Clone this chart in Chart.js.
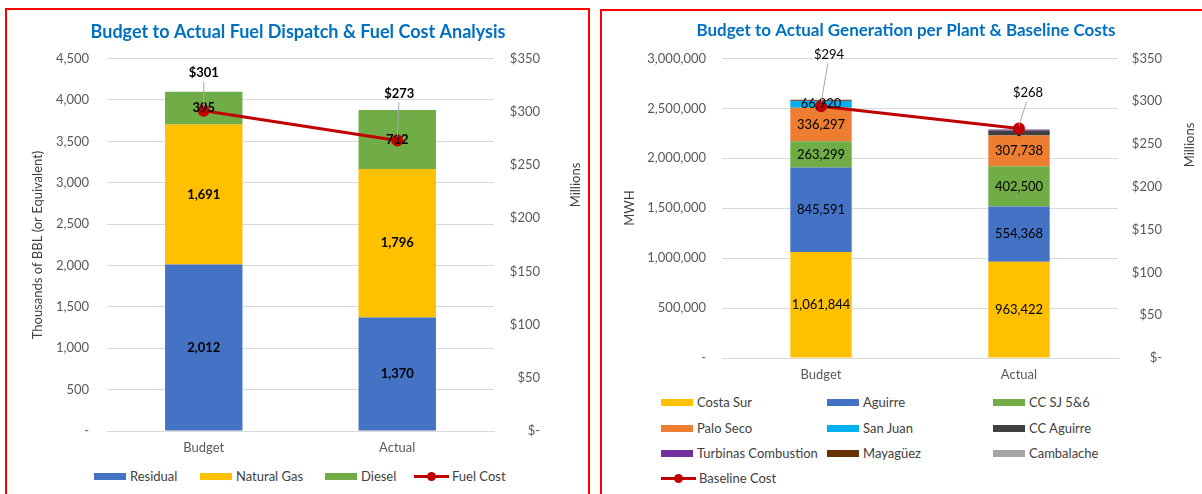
<!DOCTYPE html>
<html><head><meta charset="utf-8">
<script src="https://cdn.jsdelivr.net/npm/chart.js@4.4.0/dist/chart.umd.min.js"></script>
<style>
body{margin:0;width:1202px;height:494px;overflow:hidden;background:#fff;position:relative;font-family:Lato,'Open Sans',sans-serif;}
.box{position:absolute;border:2px solid #ff0000;box-sizing:border-box;}
.cw{position:absolute;}
.leg{position:absolute;font-size:13px;color:#404040;display:flex;align-items:center;white-space:nowrap;height:16px;line-height:16px;}
.sw{display:inline-block;width:32px;height:7px;margin-right:4px;}
.ln{position:relative;display:inline-block;width:35px;height:3px;margin-right:3px;}
.ln i{position:absolute;left:13px;top:-3px;width:9px;height:9px;border-radius:50%;}
</style></head><body>
<div class="box" style="left:5px;top:8px;width:585px;height:600px"></div>
<div class="box" style="left:600px;top:9px;width:700px;height:600px"></div>
<div class="cw" style="left:6px;top:10px;width:584px;height:451px"><canvas id="c1"></canvas></div>
<div class="cw" style="left:602px;top:11px;width:600px;height:377px"><canvas id="c2"></canvas></div>
<div id="leg1"></div><div id="leg2"></div>
<script>
// ---------- Data ----------
const fuelCategories = ['Budget', 'Actual'];
const residual   = [2012, 1370];
const naturalGas = [1691, 1796];
const diesel     = [395, 712];
const fuelCost   = [301, 273];

const genCategories = ['Budget', 'Actual'];
const costaSur   = [1061844, 963422];
const aguirre    = [845591, 554368];
const ccSJ56     = [263299, 402500];
const paloSeco   = [336297, 307738];
const sanJuan    = [66920, 0];
const ccAguirre  = [0, 45000];
const turbinas   = [3000, 7000];
const mayaguez   = [10000, 0];
const cambalache = [0, 13000];
const baselineCost = [294, 268];

// ---------- Helpers ----------
Chart.defaults.font.family = "Lato, 'Open Sans', sans-serif";
Chart.defaults.color = '#595959';
function fmtNum(v){ return v === 0 ? '-' : Number(v).toLocaleString('en-US'); }
function fmtMoney(v){ return v === 0 ? '$-' : '$' + v; }

const labelPlugin = {
  id: 'segLabels',
  afterDatasetsDraw(chart, args, opts) {
    const ctx = chart.ctx;
    ctx.save();
    ctx.textAlign = 'center';
    ctx.textBaseline = 'middle';
    chart.data.datasets.forEach((ds, i) => {
      const meta = chart.getDatasetMeta(i);
      const type = ds.type || 'bar';
      if (type === 'bar') {
        if (!opts.barLabelSets.includes(i)) return;
        ctx.font = opts.barFont; ctx.fillStyle = '#000';
        meta.data.forEach((el, j) => {
          ctx.fillText(fmtNum(ds.data[j]), el.x, (el.y + el.base) / 2);
        });
      } else {
        meta.data.forEach((pt, j) => {
          const off = opts.lineOffsets[j];
          const lx = pt.x + off[0], ly = pt.y + off[1];
          ctx.strokeStyle = '#A6A6A6'; ctx.lineWidth = 1;
          ctx.beginPath(); ctx.moveTo(lx - off[0] * 0.15, ly + 9); ctx.lineTo(pt.x, pt.y - 3); ctx.stroke();
          ctx.font = opts.lineFont; ctx.fillStyle = '#000';
          ctx.fillText(fmtMoney(ds.data[j]), lx, ly);
        });
      }
    });
    ctx.font = opts.titleFont; ctx.fillStyle = '#404040';
    opts.titles.forEach(t => {
      ctx.save(); ctx.translate(t.x, t.y); ctx.rotate(-Math.PI / 2);
      ctx.fillText(t.text, 0, 0); ctx.restore();
    });
    // chart heading (centred on the whole canvas)
    const h = opts.heading;
    ctx.font = h.font; ctx.fillStyle = '#0070C0';
    ctx.fillText(h.text, h.x, h.y);
    ctx.restore();
  }
};

function commonScales(cfg) {
  return {
    x: {
      stacked: true,
      grid: { display: false, drawTicks: false },
      border: { display: true, color: '#D9D9D9' },
      ticks: { padding: 9, font: { size: 13 }, color: '#595959' },
      afterFit(s) { s.height = 30; }
    },
    y: {
      stacked: true, min: 0, max: cfg.yMax,
      grid: { color: '#D9D9D9', drawTicks: false },
      border: { display: false },
      ticks: { stepSize: cfg.yStep, padding: cfg.yPad, callback: v => fmtNum(v), font: { size: 13 }, color: '#595959' },
      afterFit(s) { s.width = cfg.yWidth; }
    },
    y1: {
      position: 'right', min: 0, max: 350,
      grid: { display: false, drawTicks: false },
      border: { display: false },
      ticks: { stepSize: 50, padding: 19, crossAlign: 'far', callback: v => fmtMoney(v), font: { size: 13 }, color: '#595959' },
      afterFit(s) { s.width = cfg.y1Width; }
    }
  };
}

const title1 = 'Budget to Actual Fuel Dispatch & Fuel Cost Analysis';
const title2 = 'Budget to Actual Generation per Plant & Baseline Costs';

// ---------- Chart 1 ----------
const c1 = new Chart(document.getElementById('c1'), {
  type: 'bar',
  data: {
    labels: fuelCategories,
    datasets: [
      { label: 'Residual', data: residual, backgroundColor: '#4472C4', order: 1, yAxisID: 'y' },
      { label: 'Natural Gas', data: naturalGas, backgroundColor: '#FFC000', order: 1, yAxisID: 'y' },
      { label: 'Diesel', data: diesel, backgroundColor: '#70AD47', order: 1, yAxisID: 'y' },
      { type: 'line', label: 'Fuel Cost', data: fuelCost, yAxisID: 'y1', order: 0,
        borderColor: '#C00000', backgroundColor: '#C00000', borderWidth: 3,
        pointRadius: 4.5, pointBackgroundColor: '#C00000', pointBorderColor: '#C00000' }
    ]
  },
  options: {
    responsive: true, maintainAspectRatio: false, animation: false,
    datasets: { bar: { barPercentage: 0.4, categoryPercentage: 1 } },
    layout: { padding: { left: 0, right: 50, top: 0, bottom: 0 } },
    plugins: {
      legend: { display: false }, tooltip: { enabled: false },
      title: { display: true, text: title1,
        color: 'rgba(0,0,0,0)', font: { size: 18, weight: 'bold' }, padding: { top: 11, bottom: 16 } },
      segLabels: {
        barLabelSets: [0, 1, 2], barFont: 'bold 13px Lato', lineFont: 'bold 13px Lato',
        lineOffsets: [[0, -38], [2, -47]], titleFont: '13px Lato',
        titles: [{ text: 'Thousands of BBL (or Equivalent)', x: 32, y: 235 }, { text: 'Millions', x: 570, y: 175 }],
        heading: { text: title1, font: 'bold 18px Lato', x: 292, y: 22 }
      }
    },
    scales: commonScales({ yMax: 4500, yStep: 500, yPad: 18, yWidth: 101, y1Width: 46 })
  },
  plugins: [labelPlugin]
});

// ---------- Chart 2 ----------
const c2 = new Chart(document.getElementById('c2'), {
  type: 'bar',
  data: {
    labels: genCategories,
    datasets: [
      { label: 'Costa Sur', data: costaSur, backgroundColor: '#FFC000', order: 1 },
      { label: 'Aguirre', data: aguirre, backgroundColor: '#4472C4', order: 1 },
      { label: 'CC SJ 5&6', data: ccSJ56, backgroundColor: '#70AD47', order: 1 },
      { label: 'Palo Seco', data: paloSeco, backgroundColor: '#ED7D31', order: 1 },
      { label: 'San Juan', data: sanJuan, backgroundColor: '#00B0F0', order: 1 },
      { label: 'CC Aguirre', data: ccAguirre, backgroundColor: '#404040', order: 1 },
      { label: 'Turbinas Combustion', data: turbinas, backgroundColor: '#7030A0', order: 1 },
      { label: 'Mayagüez', data: mayaguez, backgroundColor: '#663300', order: 1 },
      { label: 'Cambalache', data: cambalache, backgroundColor: '#A5A5A5', order: 1 },
      { type: 'line', label: 'Baseline Cost', data: baselineCost, yAxisID: 'y1', order: 0,
        borderColor: '#C00000', backgroundColor: '#C00000', borderWidth: 3,
        pointRadius: 4.5, pointBackgroundColor: '#C00000', pointBorderColor: '#C00000' }
    ]
  },
  options: {
    responsive: true, maintainAspectRatio: false, animation: false,
    datasets: { bar: { barPercentage: 0.31, categoryPercentage: 1 } },
    layout: { padding: { left: 0, right: 40, top: 0, bottom: 0 } },
    plugins: {
      legend: { display: false }, tooltip: { enabled: false },
      title: { display: true, text: title2,
        color: 'rgba(0,0,0,0)', font: { size: 17, weight: 'bold' }, padding: { top: 10, bottom: 17 } },
      segLabels: {
        barLabelSets: [0, 1, 2, 3, 4], barFont: '13px Lato', lineFont: '13px Lato',
        lineOffsets: [[8, -52], [9, -36]], titleFont: '13px Lato',
        titles: [{ text: 'MWH', x: 28, y: 197 }, { text: 'Millions', x: 588, y: 134 }],
        heading: { text: title2, font: 'bold 17px Lato', x: 304, y: 20 }
      }
    },
    scales: commonScales({ yMax: 3000000, yStep: 500000, yPad: 16, yWidth: 120, y1Width: 44 })
  },
  plugins: [labelPlugin]
});

// ---------- HTML legends (built from the chart datasets) ----------
function buildLegend(chart, host, slots) {
  const el = document.getElementById(host);
  chart.data.datasets.forEach((ds, k) => {
    const s = slots[k];
    const item = document.createElement('div');
    item.className = 'leg';
    item.style.left = s[0] + 'px'; item.style.top = (s[1] - 8) + 'px';
    if (ds.type === 'line') {
      item.innerHTML = '<span class="ln" style="background:' + ds.borderColor + '"><i style="background:' + ds.borderColor + '"></i></span>';
    } else {
      item.innerHTML = '<span class="sw" style="background:' + ds.backgroundColor + '"></span>';
    }
    item.appendChild(document.createTextNode(ds.label));
    el.appendChild(item);
  });
}
buildLegend(c1, 'leg1', [[94, 476], [200, 476], [325, 476], [414, 476]]);
buildLegend(c2, 'leg2', [[661, 402], [827, 402], [993, 402], [661, 428], [827, 428], [993, 428], [661, 453], [827, 453], [993, 453], [661, 478]]);
</script>
</body></html>
